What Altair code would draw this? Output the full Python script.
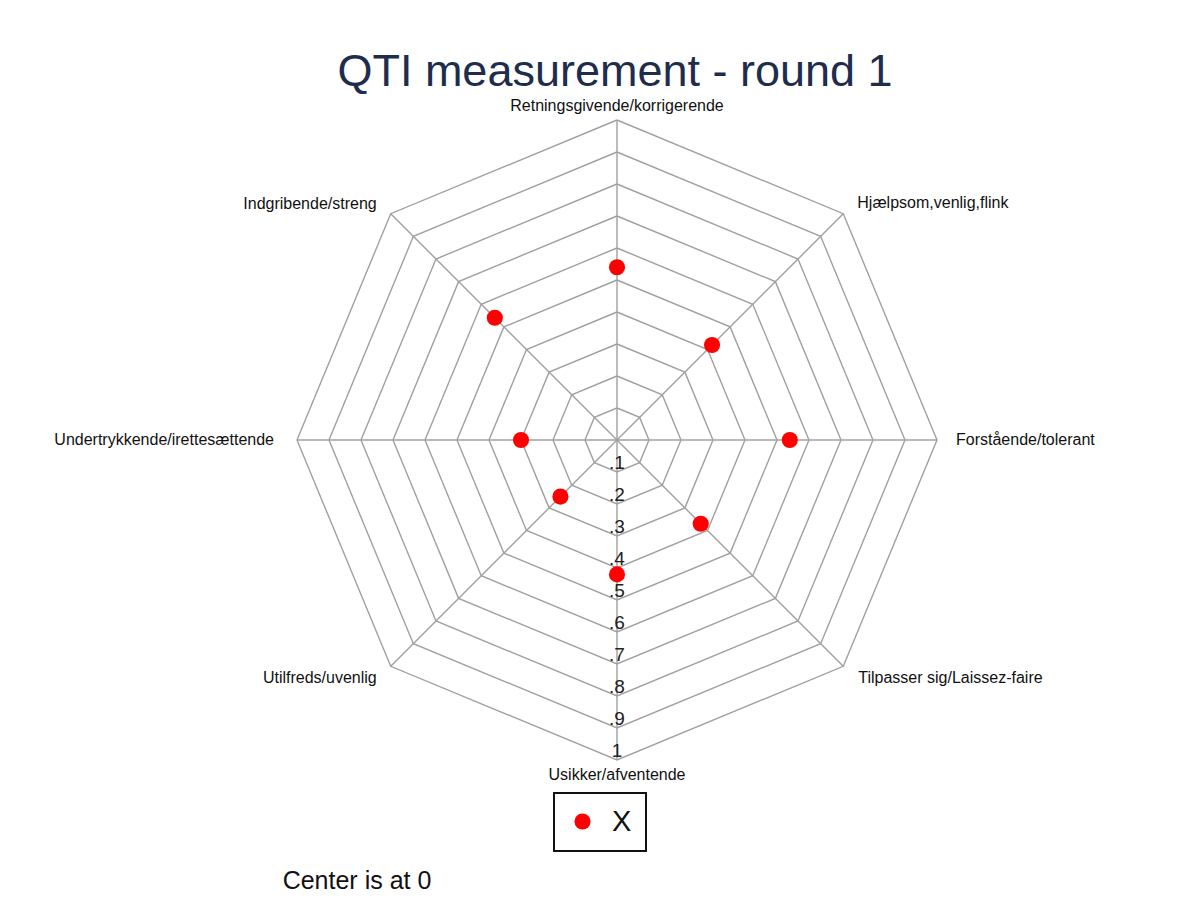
import math
import altair as alt
import pandas as pd

# ---- data ----
categories = [
    "Retningsgivende/korrigerende",
    "Hjælpsom,venlig,flink",
    "Forstående/tolerant",
    "Tilpasser sig/Laissez-faire",
    "Usikker/afventende",
    "Utilfreds/uvenlig",
    "Undertrykkende/irettesættende",
    "Indgribende/streng",
]
values = [0.54, 0.42, 0.54, 0.37, 0.42, 0.25, 0.30, 0.54]
series_name = "X"
ring_levels = [0.1, 0.2, 0.3, 0.4, 0.5, 0.6, 0.7, 0.8, 0.9, 1.0]
tick_labels = [".1", ".2", ".3", ".4", ".5", ".6", ".7", ".8", ".9", "1"]
title_text = "QTI measurement - round 1"
note_text = "Center is at 0"

# ---- layout / style ----
W, H = 1176, 818
PAD_TOP = 90
R_PX = 320.0
CX, CY = 609.0, 342.0
FONT = "Liberation Sans"
GRID = "#a0a0a0"

x_dom = [-CX / R_PX, (W - CX) / R_PX]
y_dom = [-(H - CY) / R_PX, CY / R_PX]
xs = alt.Scale(domain=x_dom, nice=False, zero=False)
ys = alt.Scale(domain=y_dom, nice=False, zero=False)

n = len(categories)
ang = [2 * math.pi * i / n for i in range(n)]

# rings
ring_rows = []
for lev in ring_levels:
    for k in range(n + 1):
        a = ang[k % n]
        ring_rows.append({"level": lev, "k": k, "x": lev * math.sin(a), "y": lev * math.cos(a)})
ring_df = pd.DataFrame(ring_rows)

spoke_df = pd.DataFrame({
    "cat": categories,
    "x0": [0.0] * n, "y0": [0.0] * n,
    "x1": [math.sin(a) for a in ang],
    "y1": [math.cos(a) for a in ang],
})

pt_df = pd.DataFrame({
    "cat": categories,
    "value": values,
    "series": [series_name] * n,
    "x": [v * math.sin(a) for v, a in zip(values, ang)],
    "y": [v * math.cos(a) for v, a in zip(values, ang)],
})

tick_df = pd.DataFrame({"level": ring_levels, "label": tick_labels,
                        "x": [0.0] * len(ring_levels),
                        "y": [-l for l in ring_levels]})

X = lambda f: alt.X(f, type="quantitative", scale=xs, axis=None)
Y = lambda f: alt.Y(f, type="quantitative", scale=ys, axis=None)

rings = alt.Chart(ring_df).mark_line(color=GRID, strokeWidth=1.4).encode(
    x=X("x"), y=Y("y"), detail="level:N", order="k:Q")

spokes = alt.Chart(spoke_df).mark_rule(color=GRID, strokeWidth=1.4).encode(
    x=X("x0"), y=Y("y0"), x2="x1", y2="y1")

ticks = alt.Chart(tick_df).mark_text(
    font=FONT, fontSize=19, color="#222222", align="center", baseline="alphabetic", dy=-3
).encode(x=X("x"), y=Y("y"), text="label:N")

# category labels (placement style per direction)
label_style = [
    ("center", "bottom", 0, -6),
    ("left", "middle", 14, -11),
    ("left", "middle", 19, 0),
    ("left", "middle", 15, 12),
    ("center", "top", 0, 7),
    ("right", "middle", -14, 12),
    ("right", "middle", -23, 0),
    ("right", "middle", -14, -10),
]
label_layers = []
for i, (al, bl, dx, dy) in enumerate(label_style):
    d = pd.DataFrame({"cat": [categories[i]], "x": [math.sin(ang[i])], "y": [math.cos(ang[i])]})
    label_layers.append(
        alt.Chart(d).mark_text(font=FONT, fontSize=16, color="#111111",
                               align=al, baseline=bl, dx=dx, dy=dy)
        .encode(x=X("x"), y=Y("y"), text="cat:N"))

points = alt.Chart(pt_df).mark_circle(size=260, opacity=1).encode(
    x=X("x"), y=Y("y"),
    color=alt.Color("series:N", scale=alt.Scale(domain=[series_name], range=["#ff0000"]),
                    legend=alt.Legend(title=None, orient="none", legendX=546, legendY=695,
                                      strokeColor="#111111", padding=14,
                                      symbolSize=260, symbolType="circle",
                                      labelFontSize=29, labelFont=FONT, labelColor="#111111",
                                      labelOffset=15)),
    tooltip=["cat:N", "value:Q"])

note = alt.Chart(pd.DataFrame({"t": [note_text]})).mark_text(
    font=FONT, fontSize=25, color="#111111", align="center", baseline="middle"
).encode(x=alt.value(349), y=alt.value(783), text="t:N")

chart = alt.layer(rings, spokes, ticks, *label_layers, points, note).properties(
    width=W, height=H,
    title=alt.TitleParams(title_text, fontSize=45, font=FONT, fontWeight="normal",
                          color="#1f2d4d", anchor="middle", dx=19, offset=3),
    autosize=alt.AutoSizeParams(type="none"),
    padding={"left": 0, "top": PAD_TOP, "right": 0, "bottom": 0},
).configure_view(stroke=None).configure_legend(strokeWidth=2)

chart.save("out.html", embed_options={"renderer": "svg", "actions": False})
